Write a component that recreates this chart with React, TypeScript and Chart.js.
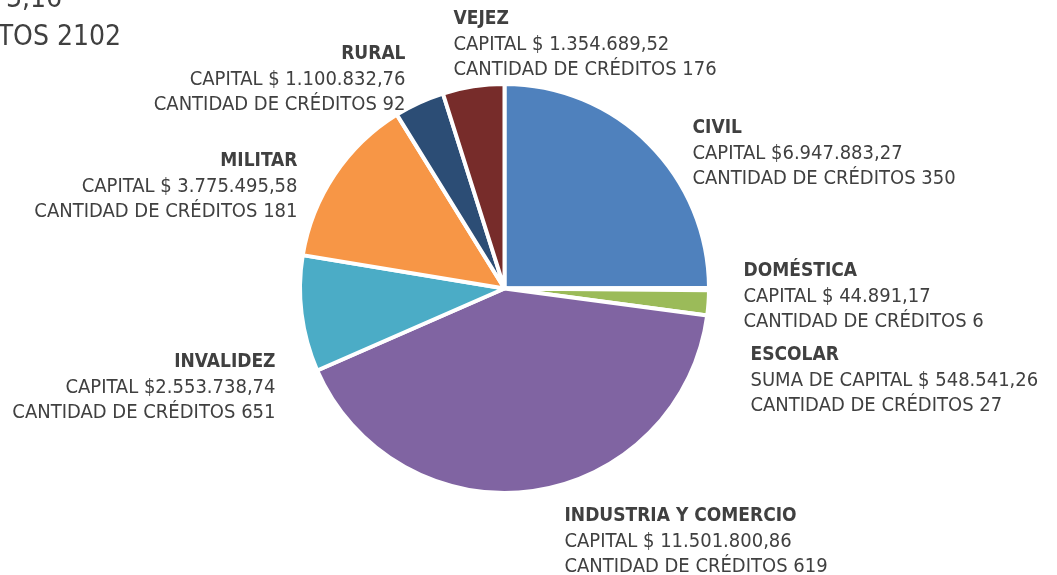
import React, { useEffect, useRef } from "react";
import { Chart, registerables } from "chart.js";

Chart.register(...registerables);

// ---- data ----
const categories = [
  "CIVIL",
  "DOMÉSTICA",
  "ESCOLAR",
  "INDUSTRIA Y COMERCIO",
  "INVALIDEZ",
  "MILITAR",
  "RURAL",
  "VEJEZ",
];
const capital = [
  6947883.27, 44891.17, 548541.26, 11501800.86, 2553738.74, 3775495.58,
  1100832.76, 1354689.52,
];
const credits = [350, 6, 27, 619, 651, 181, 92, 176];
const capitalPrefixes = [
  "CAPITAL $",
  "CAPITAL $ ",
  "SUMA DE CAPITAL $ ",
  "CAPITAL $ ",
  "CAPITAL $",
  "CAPITAL $ ",
  "CAPITAL $ ",
  "CAPITAL $ ",
];
const creditPrefix = "CANTIDAD DE CRÉDITOS ";
const totalCapitalPrefix = "TOTAL CAPITAL $ ";
const totalCreditsPrefix = "TOTAL CANTIDAD DE CRÉDITOS ";

// ---- styles / layout ----
const sliceColors = [
  "#4F81BD",
  "#C0504D",
  "#9BBB59",
  "#8064A2",
  "#4BACC6",
  "#F79646",
  "#2C4D75",
  "#772C2A",
];
// label anchor offsets relative to pie centre (px), first-line centre
const labelLayout = [
  { dx: 188, dy: -160, align: "left" },
  { dx: 239, dy: -17, align: "left" },
  { dx: 246, dy: 67, align: "left" },
  { dx: 60, dy: 228, align: "left" },
  { dx: -229, dy: 74, align: "right" },
  { dx: -207, dy: -127, align: "right" },
  { dx: -99, dy: -234, align: "right" },
  { dx: -51, dy: -269, align: "left" },
];
const TEXT_COLOR = "#404040";
const FONT_FAMILY = '"DejaVu Sans Condensed", "DejaVu Sans", sans-serif';
const LINE_GAP = 25;

function fmt(n: number): string {
  const [i, d] = n.toFixed(2).split(".");
  const grouped = i.replace(/\B(?=(\d{3})+(?!\d))/g, ".");
  return grouped + "," + d;
}

const labelPlugin = {
  id: "sliceLabels",
  afterDraw(chart: any) {
    const ctx = chart.ctx as CanvasRenderingContext2D;
    const meta = chart.getDatasetMeta(0);
    const arc = meta.data[0];
    if (!arc) return;
    const { x: cx, y: cy } = arc.getProps(["x", "y"], true);
    ctx.save();
    ctx.fillStyle = TEXT_COLOR;
    ctx.textBaseline = "middle";
    categories.forEach((cat, i) => {
      const lay = labelLayout[i];
      const x = cx + lay.dx;
      const y = cy + lay.dy;
      ctx.textAlign = lay.align as CanvasTextAlign;
      ctx.font = `bold 19px ${FONT_FAMILY}`;
      ctx.fillText(cat, x, y);
      ctx.font = `20px ${FONT_FAMILY}`;
      ctx.fillText(capitalPrefixes[i] + fmt(capital[i]), x, y + LINE_GAP);
      ctx.fillText(creditPrefix + credits[i], x, y + LINE_GAP * 2);
    });
    // totals (partially outside canvas, as in the reference)
    const totalCap = capital.reduce((a, b) => a + b, 0);
    const totalCred = credits.reduce((a, b) => a + b, 0);
    ctx.font = `28px ${FONT_FAMILY}`;
    ctx.textAlign = "right";
    ctx.textBaseline = "alphabetic";
    ctx.fillText(totalCapitalPrefix + fmt(totalCap), 62, 7);
    ctx.fillText(totalCreditsPrefix + totalCred, 121, 45);
    ctx.restore();
  },
};

export default function App() {
  const ref = useRef<HTMLCanvasElement | null>(null);
  useEffect(() => {
    if (!ref.current) return;
    const chart = new Chart(ref.current, {
      type: "pie",
      data: {
        labels: categories,
        datasets: [
          {
            data: capital,
            backgroundColor: sliceColors,
            borderColor: "#FFFFFF",
            borderWidth: 4,
          },
        ],
      },
      options: {
        responsive: false,
        animation: false,
        devicePixelRatio: 1,
        layout: { padding: { left: 298, right: 346, top: 82, bottom: 80 } },
        plugins: {
          legend: { display: false },
          tooltip: { enabled: false },
          title: { display: false },
        },
      },
      plugins: [labelPlugin],
    });
    return () => chart.destroy();
  }, []);
  return (
    <div
      style={{
        position: "fixed",
        left: 0,
        top: 0,
        width: 1057,
        height: 575,
        background: "#FFFFFF",
      }}
    >
      <canvas ref={ref} width={1057} height={575} />
    </div>
  );
}
